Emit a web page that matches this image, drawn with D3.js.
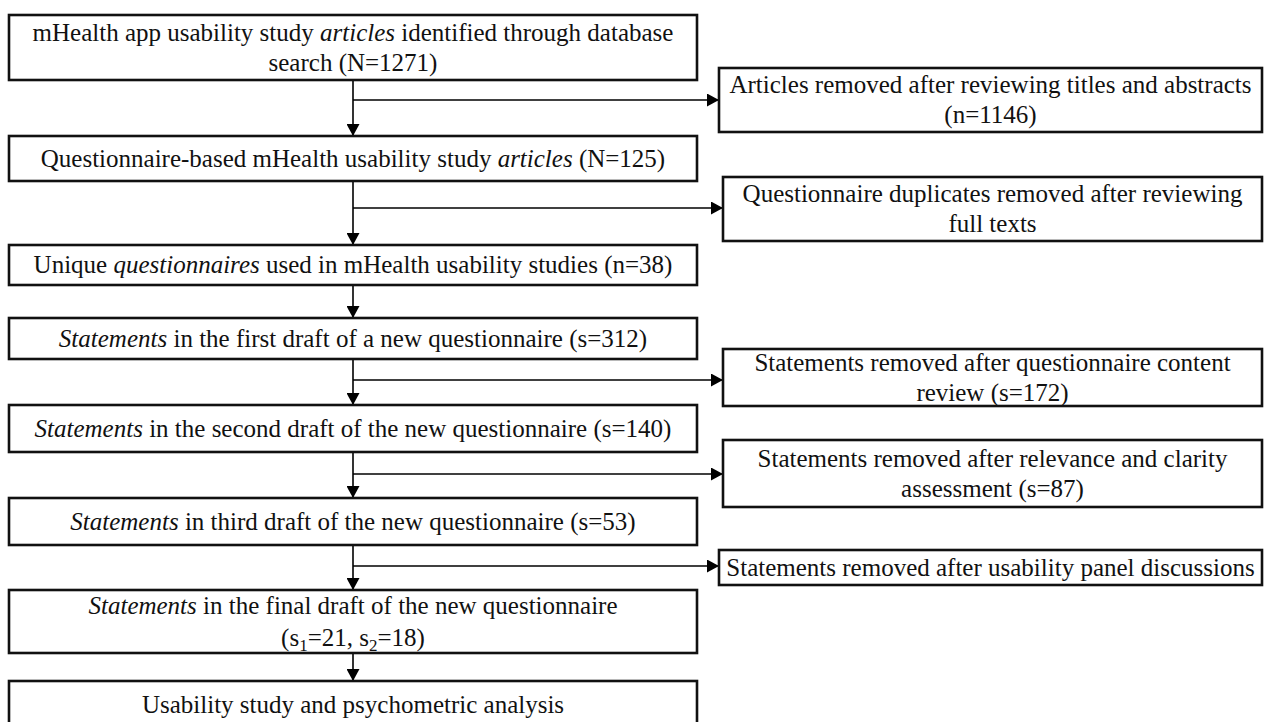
<!DOCTYPE html>
<html>
<head>
<meta charset="utf-8">
<script src="https://cdn.jsdelivr.net/npm/d3@7"></script>
<style>
  body { margin: 0; background: #fff; }
</style>
</head>
<body>
<div id="chart"></div>
<script>
var width = 1264;
var height = 722;

// box texts, one array entry per line. *word* = italic, _1 = subscript
var mainLabels = [
  ["mHealth app usability study *articles* identified through database", "search (N=1271)"],
  ["Questionnaire-based mHealth usability study *articles* (N=125)"],
  ["Unique *questionnaires* used in mHealth usability studies (n=38)"],
  ["*Statements* in the first draft of a new questionnaire (s=312)"],
  ["*Statements* in the second draft of the new questionnaire (s=140)"],
  ["*Statements* in third draft of the new questionnaire (s=53)"],
  ["*Statements* in the final draft of the new questionnaire", "(s_1=21, s_2=18)"],
  ["Usability  study and psychometric analysis"]
];
var sideLabels = [
  ["Articles removed after reviewing titles and abstracts", "(n=1146)"],
  ["Questionnaire duplicates removed after reviewing", "full texts"],
  ["Statements removed after questionnaire content", "review (s=172)"],
  ["Statements removed after relevance and clarity", "assessment (s=87)"],
  ["Statements removed after usability panel discussions"]
];

// layout
var mainTop = [15, 136, 245, 318, 405, 498, 590, 681];
var mainBottom = [80, 181, 285, 359, 452, 545, 653, 728];
var mainLeft = 9, mainRight = 697, spineX = 353;
var sideTop = [68, 177, 349, 440, 550];
var sideBottom = [132, 241, 406, 507, 585];
var sideLeft = [719, 723, 723, 723, 719];
var sideRight = 1262;
var sideArrowY = [100, 208, 380, 474, 566];

var fontSize = 25, lineH = 30;

var svg = d3.select("#chart")
  .append("svg")
  .attr("width", width)
  .attr("height", height)
  .style("font-family", "'Liberation Serif', 'Times New Roman', serif")
  .style("font-size", fontSize + "px")

svg.append("defs").append("marker")
  .attr("id", "head")
  .attr("markerUnits", "userSpaceOnUse")
  .attr("viewBox", "0 0 12 13")
  .attr("refX", 12)
  .attr("refY", 6.5)
  .attr("markerWidth", 12)
  .attr("markerHeight", 13)
  .attr("orient", "auto")
  .append("path")
  .attr("d", "M0,0 L12,6.5 L0,13 Z")
  .attr("fill", "#000")

// write a (possibly multi line) label centred in a box
function writeLabel(g, lines, cx, cy, lh) {
  var first = cy - (lines.length - 1) * lh / 2 + 0.33 * fontSize;
  lines.forEach(function(line, i) {
    var t = g.append("text")
      .attr("x", cx)
      .attr("y", first + i * lh)
      .attr("text-anchor", "middle")
      .attr("fill", "#111")
    var parts = line.split(/(\*[^*]+\*|_\d)/).filter(function(p) { return p.length; });
    var shifted = false;
    parts.forEach(function(p) {
      if (p[0] === "*") {
        var s = t.append("tspan").text(p.slice(1, -1)).style("font-style", "italic");
        if (shifted) { s.attr("dy", -5); shifted = false; }
      } else if (p[0] === "_") {
        t.append("tspan").text(p.slice(1)).attr("dy", 5).style("font-size", "17px");
        shifted = true;
      } else {
        var s2 = t.append("tspan").text(p);
        if (shifted) { s2.attr("dy", -5); shifted = false; }
      }
    });
  });
}

// connectors down the main column
var down = svg.append("g")
down.selectAll("line")
  .data(d3.range(mainLabels.length - 1))
  .join("line")
    .attr("x1", spineX)
    .attr("x2", spineX)
    .attr("y1", i => mainBottom[i])
    .attr("y2", i => mainTop[i + 1])
    .attr("stroke", "#000")
    .attr("stroke-width", 1.6)
    .attr("marker-end", "url(#head)")

// side arrows
svg.append("g").selectAll("line")
  .data(sideLabels)
  .join("line")
    .attr("x1", spineX)
    .attr("x2", (d, i) => sideLeft[i])
    .attr("y1", (d, i) => sideArrowY[i])
    .attr("y2", (d, i) => sideArrowY[i])
    .attr("stroke", "#000")
    .attr("stroke-width", 1.6)
    .attr("marker-end", "url(#head)")

// main boxes
var mainG = svg.append("g")
mainLabels.forEach(function(lines, i) {
  mainG.append("rect")
    .attr("x", mainLeft)
    .attr("y", mainTop[i])
    .attr("width", mainRight - mainLeft)
    .attr("height", mainBottom[i] - mainTop[i])
    .attr("fill", "#fff")
    .attr("stroke", "#111")
    .attr("stroke-width", 2.6)
  writeLabel(mainG, lines, (mainLeft + mainRight) / 2, (mainTop[i] + mainBottom[i]) / 2, i === 6 ? 32 : lineH);
});

// side boxes
var sideG = svg.append("g")
sideLabels.forEach(function(lines, i) {
  sideG.append("rect")
    .attr("x", sideLeft[i])
    .attr("y", sideTop[i])
    .attr("width", sideRight - sideLeft[i])
    .attr("height", sideBottom[i] - sideTop[i])
    .attr("fill", "#fff")
    .attr("stroke", "#111")
    .attr("stroke-width", 2.6)
  writeLabel(sideG, lines, (sideLeft[i] + sideRight) / 2, (sideTop[i] + sideBottom[i]) / 2, lineH);
});
</script>
</body>
</html>
